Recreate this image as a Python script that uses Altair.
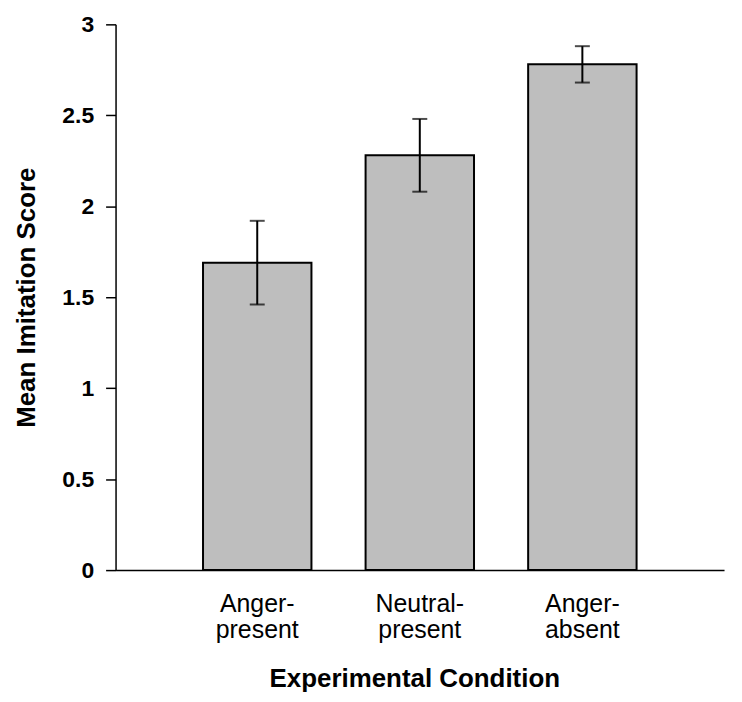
import altair as alt
import pandas as pd

conditions = ["Anger-|present", "Neutral-|present", "Anger-|absent"]
means = [1.69, 2.28, 2.78]
errors = [0.23, 0.20, 0.10]

df = pd.DataFrame({
    "cond": conditions,
    "mean": means,
    "lo": [m - e for m, e in zip(means, errors)],
    "hi": [m + e for m, e in zip(means, errors)],
})

FONT = "Liberation Sans"

x = alt.X(
    "cond:N",
    sort=conditions,
    scale=alt.Scale(paddingInner=0.333, paddingOuter=0.538),
    axis=alt.Axis(
        title="Experimental Condition",
        labelExpr="split(datum.label, '|')",
        labelAngle=0,
        labelFont=FONT,
        labelFontSize=25,
        labelLineHeight=26,
        labelPadding=22,
        labelColor="black",
        ticks=False,
        domainColor="black",
        domainWidth=1.5,
        titleFont=FONT,
        titleFontSize=26,
        titleFontWeight="bold",
        titleColor="black",
        titleX=300,
        titleY=117,
        titleBaseline="alphabetic",
        titleAlign="center",
    ),
)

y_axis = alt.Axis(
    title="Mean Imitation Score",
    values=[0, 0.5, 1, 1.5, 2, 2.5, 3],
    format="~g",
    grid=False,
    tickSize=10,
    tickColor="black",
    tickWidth=1.5,
    domainColor="black",
    domainWidth=1.5,
    labelFont=FONT,
    labelFontSize=23,
    labelFontWeight="bold",
    labelColor="black",
    labelPadding=12,
    titleFont=FONT,
    titleFontSize=26,
    titleFontWeight="bold",
    titleColor="black",
    titleX=-81,
    titleBaseline="alphabetic",
)

y_scale = alt.Scale(domain=[0, 3], nice=False)

base = alt.Chart(df)

bars = base.mark_bar(
    fill="#bebebe", stroke="black", strokeWidth=2
).encode(
    x=x,
    y=alt.Y("mean:Q", scale=y_scale, axis=y_axis),
)

rule = base.mark_rule(color="black", strokeWidth=2).encode(
    x=alt.X("cond:N", sort=conditions),
    y="lo:Q",
    y2="hi:Q",
)

cap_lo = base.mark_tick(color="black", thickness=2, size=15, orient="horizontal").encode(
    x=alt.X("cond:N", sort=conditions),
    y="lo:Q",
)
cap_hi = base.mark_tick(color="black", thickness=2, size=15, orient="horizontal").encode(
    x=alt.X("cond:N", sort=conditions),
    y="hi:Q",
)

chart = alt.layer(bars, rule, cap_lo, cap_hi).properties(
    width=611,
    height=548,
    autosize=alt.AutoSizeParams(type="none"),
    padding={"left": 108, "top": 15, "right": 10, "bottom": 122},
    background="white",
).configure_view(stroke=None)

chart.save("out.html", embed_options={"renderer": "svg", "actions": False})
